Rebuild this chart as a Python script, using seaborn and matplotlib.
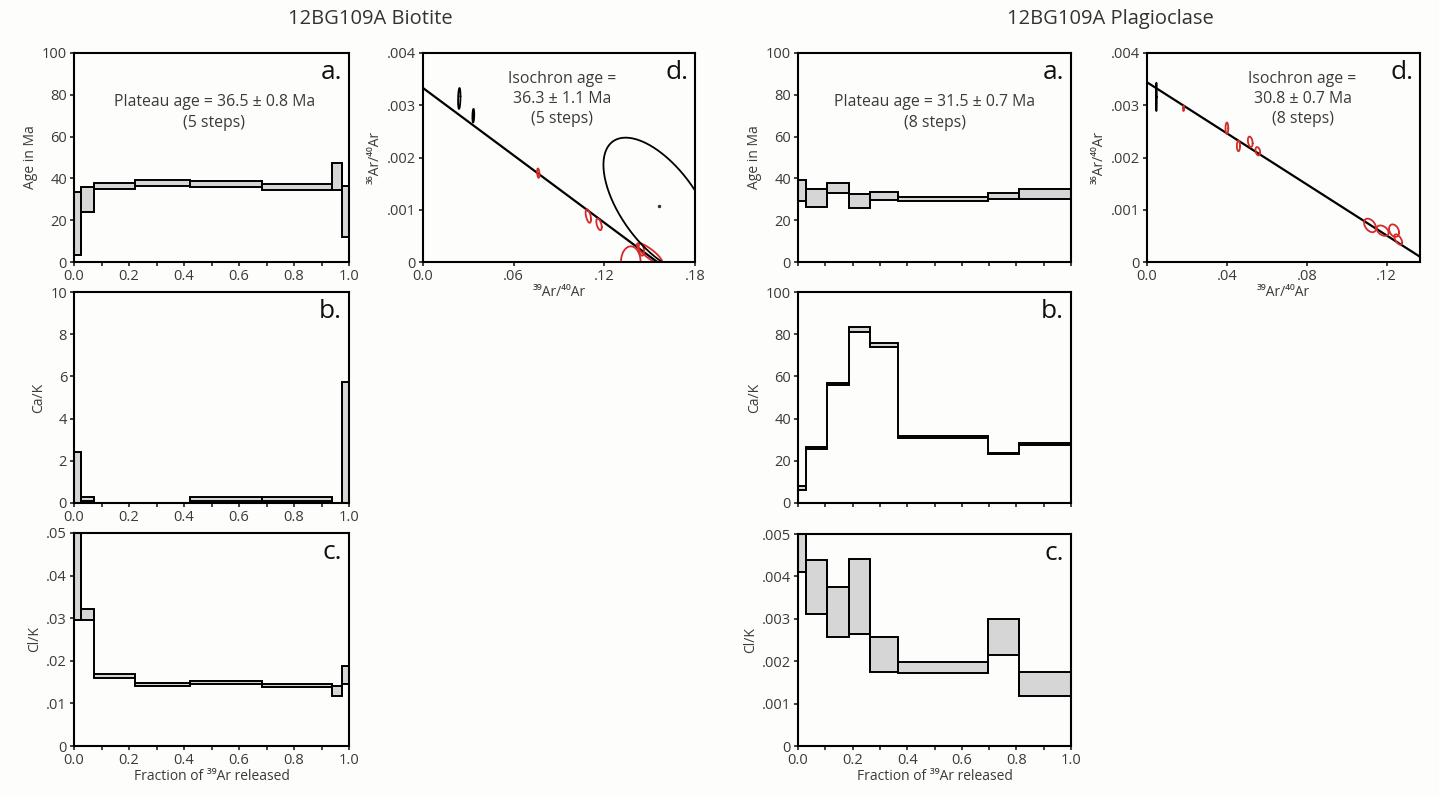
import numpy as np
import pandas as pd
import matplotlib
matplotlib.use("Agg")
import matplotlib.pyplot as plt
import seaborn as sns

# ---------------- data ----------------
# Biotite step heating (fraction of 39Ar released, step edges)
bio_edges = [0.0, 0.024, 0.073, 0.223, 0.420, 0.685, 0.939, 0.973, 1.0]
bio_age_lo = [3.5, 24.0, 35.0, 36.5, 36.1, 34.3, 34.3, 12.0]
bio_age_hi = [33.3, 36.0, 37.9, 39.2, 38.7, 37.2, 47.5, 36.3]
bio_cak_lo = [0.0, 0.08, 0.0, 0.0, 0.08, 0.08, 0.0, 0.0]
bio_cak_hi = [2.42, 0.27, 0.0, 0.0, 0.28, 0.28, 0.0, 5.75]
bio_clk_lo = [0.0296, 0.0296, 0.0159, 0.0141, 0.0145, 0.0139, 0.0118, 0.0145]
bio_clk_hi = [0.0600, 0.0321, 0.0169, 0.0148, 0.0152, 0.0145, 0.0140, 0.0188]

# Plagioclase step heating
plag_edges = [0.0, 0.029, 0.106, 0.185, 0.264, 0.367, 0.696, 0.808, 1.0]
plag_age_lo = [29.0, 26.5, 33.2, 25.6, 29.7, 29.4, 30.3, 30.3]
plag_age_hi = [39.0, 34.8, 37.9, 32.4, 33.7, 31.3, 33.2, 34.8]
plag_cak_lo = [6.0, 25.6, 55.8, 81.2, 74.0, 30.8, 23.0, 27.7]
plag_cak_hi = [8.0, 26.6, 56.8, 83.2, 75.8, 31.6, 23.8, 28.5]
plag_clk_lo = [0.00411, 0.00311, 0.00258, 0.00263, 0.00174, 0.00171, 0.00215, 0.00119]
plag_clk_hi = [0.0056, 0.00439, 0.00374, 0.00440, 0.00258, 0.00199, 0.00299, 0.00175]

# Isochron ellipses: centre x, centre y, half-width x, half-height y, correlation, colour
bio_ell_cx = [0.0240, 0.0333, 0.0763, 0.1094, 0.1165, 0.1375, 0.1500, 0.1445, 0.1562]
bio_ell_cy = [0.00313, 0.00280, 0.00170, 0.00088, 0.00072, 0.00000, 0.00016, 0.00024, 0.00108]
bio_ell_sx = [0.0008, 0.0006, 0.0008, 0.0018, 0.0018, 0.0065, 0.0085, 0.0018, 0.0368]
bio_ell_sy = [0.00020, 0.00013, 0.00009, 0.00013, 0.00011, 0.00030, 0.00020, 0.00012, 0.00130]
bio_ell_r = [0.2, 0.2, -0.3, -0.5, -0.5, 0.0, -0.85, -0.3, -0.60]
bio_ell_col = ["k", "k", "r", "r", "r", "r", "r", "r", "k"]
bio_iso_y0, bio_iso_x0 = 0.00333, 0.155

plag_ell_cx = [0.0047, 0.0183, 0.0400, 0.0458, 0.0517, 0.0555, 0.1117, 0.1180, 0.1237, 0.1258]
plag_ell_cy = [0.00316, 0.00294, 0.00256, 0.00222, 0.00230, 0.00212, 0.00070, 0.00060, 0.00060, 0.00043]
plag_ell_sx = [0.0002, 0.0003, 0.0007, 0.0008, 0.0012, 0.0012, 0.0030, 0.0030, 0.0025, 0.0020]
plag_ell_sy = [0.00027, 0.00005, 0.00011, 0.00010, 0.00010, 0.00008, 0.00013, 0.00010, 0.00012, 0.00010]
plag_ell_r = [0.0, 0.0, 0.0, 0.0, -0.3, -0.3, -0.4, -0.4, -0.3, -0.6]
plag_ell_col = ["k", "r", "r", "r", "r", "r", "r", "r", "r", "r"]
plag_iso_y0, plag_iso_x0 = 0.00344, 0.1408

# Tick labels
frac_ticks = [0.0, 0.2, 0.4, 0.6, 0.8, 1.0]
frac_labels = ["0.0", "0.2", "0.4", "0.6", "0.8", "1.0"]
age_ticks = [0, 20, 40, 60, 80, 100]
bio_cak_ticks = [0, 2, 4, 6, 8, 10]
plag_cak_ticks = [0, 20, 40, 60, 80, 100]
bio_clk_ticks = [0, 0.01, 0.02, 0.03, 0.04, 0.05]
bio_clk_labels = ["0", ".01", ".02", ".03", ".04", ".05"]
plag_clk_ticks = [0, 0.001, 0.002, 0.003, 0.004, 0.005]
plag_clk_labels = ["0", ".001", ".002", ".003", ".004", ".005"]
iso_y_ticks = [0, 0.001, 0.002, 0.003, 0.004]
iso_y_labels = ["0", ".001", ".002", ".003", ".004"]
bio_iso_x_ticks = [0.0, 0.06, 0.12, 0.18]
bio_iso_x_labels = ["0.0", ".06", ".12", ".18"]
plag_iso_x_ticks = [0.0, 0.04, 0.08, 0.12]
plag_iso_x_labels = ["0.0", ".04", ".08", ".12"]

# ---------------- style ----------------
sns.set_theme(style="ticks")
FAM = ["Open Sans", "DejaVu Sans"]
plt.rcParams["font.family"] = FAM
BG = "#fdfdfb"
TXT = "#3a3a3a"
FILL = "#d6d6d6"
LW = 1.4

W, H = 1439, 797
fig = plt.figure(figsize=(W / 100, H / 100), dpi=100, facecolor=BG)


def make_ax(l, r, t, b):
    ax = fig.add_axes([l / W, 1 - b / H, (r - l) / W, (b - t) / H])
    ax.set_facecolor(BG)
    for s in ax.spines.values():
        s.set_color("black")
        s.set_linewidth(1.5)
    ax.tick_params(direction="out", length=3, width=1.2, color="#222",
                   labelsize=10.5, labelcolor=TXT, pad=2)
    return ax


def spectrum(ax, edges, lo, hi, ylim, yticks, ylabels, ylabel, labels_x):
    e = np.array(edges)
    lo = np.array(lo)
    hi = np.array(hi)
    ax.bar(e[:-1], hi - lo, bottom=lo, width=np.diff(e), align="edge",
           color=FILL, edgecolor="black", linewidth=LW)
    # connecting risers between adjacent steps
    inner = e[1:-1]
    ax.vlines(inner, np.minimum(lo[:-1], lo[1:]), np.maximum(hi[:-1], hi[1:]),
              color="black", lw=LW)
    ax.set_xlim(0, 1)
    ax.set_ylim(*ylim)
    ax.set_yticks(yticks)
    ax.set_yticklabels(ylabels)
    ax.set_xticks(frac_ticks)
    ax.set_xticks(np.arange(0.1, 1.0, 0.2), minor=True)
    ax.tick_params(which="minor", direction="out", length=3, width=1.2, color="#222")
    if labels_x:
        ax.set_xticklabels(frac_labels)
    else:
        ax.set_xticklabels([])
    ax.set_ylabel(ylabel, fontsize=10, color=TXT, labelpad=3)


def ellipse_pts(cx, cy, sx, sy, r, n=160):
    t = np.linspace(0, 2 * np.pi, n)
    x = cx + sx * np.cos(t)
    y = cy + sy * (r * np.cos(t) - np.sqrt(1 - r * r) * np.sin(t))
    return x, y


def isochron(ax, cxs, cys, sxs, sys_, rs, cols, y0, x0, xlim, xt, xl, dot=None):
    ax.set_xlim(*xlim)
    ax.set_ylim(0, 0.004)
    sns.lineplot(x=[0, x0], y=[y0, 0], color="black", lw=LW + 0.2, ax=ax,
                 sort=False, estimator=None)
    for cx, cy, sx, sy, r, c in zip(cxs, cys, sxs, sys_, rs, cols):
        x, y = ellipse_pts(cx, cy, sx, sy, r)
        col = "#d42a2a" if c == "r" else "black"
        sns.lineplot(x=x, y=y, color=col, lw=1.3, ax=ax, sort=False, estimator=None)
    if dot is not None:
        ax.plot([dot[0]], [dot[1]], marker="o", ms=1.5, color="#333")
    ax.set_yticks(iso_y_ticks)
    ax.set_yticklabels(iso_y_labels)
    ax.set_xticks(xt)
    ax.set_xticklabels(xl)
    ax.set_ylabel("³⁶Ar/⁴⁰Ar", fontsize=10, color=TXT, labelpad=3)
    ax.set_xlabel("³⁹Ar/⁴⁰Ar", fontsize=10, color=TXT, labelpad=1)


def letter(ax, s):
    ax.text(0.975, 0.965, s, transform=ax.transAxes, ha="right", va="top",
            fontsize=19, color="#111")


def note(ax, x, y, s):
    ax.text(x, y, s, transform=ax.transAxes, ha="center", va="center",
            fontsize=11.4, color=TXT, linespacing=1.35)


# ---------------- Biotite ----------------
ax = make_ax(74, 349, 53, 262)
spectrum(ax, bio_edges, bio_age_lo, bio_age_hi, (0, 100), age_ticks,
         [str(v) for v in age_ticks], "Age in Ma", True)
letter(ax, "a.")
note(ax, 0.51, 0.715, "Plateau age = 36.5 ± 0.8 Ma\n(5 steps)")

ax = make_ax(74, 349, 292, 503)
spectrum(ax, bio_edges, bio_cak_lo, bio_cak_hi, (0, 10), bio_cak_ticks,
         [str(v) for v in bio_cak_ticks], "Ca/K", True)
letter(ax, "b.")

ax = make_ax(74, 349, 533, 746)
spectrum(ax, bio_edges, bio_clk_lo, bio_clk_hi, (0, 0.05), bio_clk_ticks,
         bio_clk_labels, "Cl/K", True)
ax.set_xlabel("Fraction of ³⁹Ar released", fontsize=10, color=TXT, labelpad=1)
letter(ax, "c.")

ax = make_ax(423, 695, 53, 262)
isochron(ax, bio_ell_cx, bio_ell_cy, bio_ell_sx, bio_ell_sy, bio_ell_r, bio_ell_col,
         bio_iso_y0, bio_iso_x0, (0, 0.18), bio_iso_x_ticks, bio_iso_x_labels,
         dot=(bio_ell_cx[-1], bio_ell_cy[-1]))
letter(ax, "d.")
note(ax, 0.51, 0.78, "Isochron age =\n36.3 ± 1.1 Ma\n(5 steps)")

# ---------------- Plagioclase ----------------
ax = make_ax(798, 1071, 53, 262)
spectrum(ax, plag_edges, plag_age_lo, plag_age_hi, (0, 100), age_ticks,
         [str(v) for v in age_ticks], "Age in Ma", False)
letter(ax, "a.")
note(ax, 0.50, 0.715, "Plateau age = 31.5 ± 0.7 Ma\n(8 steps)")

ax = make_ax(798, 1071, 292, 503)
spectrum(ax, plag_edges, plag_cak_lo, plag_cak_hi, (0, 100), plag_cak_ticks,
         [str(v) for v in plag_cak_ticks], "Ca/K", False)
letter(ax, "b.")

ax = make_ax(798, 1071, 534, 746)
spectrum(ax, plag_edges, plag_clk_lo, plag_clk_hi, (0, 0.005), plag_clk_ticks,
         plag_clk_labels, "Cl/K", True)
ax.set_xlabel("Fraction of ³⁹Ar released", fontsize=10, color=TXT, labelpad=1)
letter(ax, "c.")

ax = make_ax(1147, 1420, 53, 262)
isochron(ax, plag_ell_cx, plag_ell_cy, plag_ell_sx, plag_ell_sy, plag_ell_r, plag_ell_col,
         plag_iso_y0, plag_iso_x0, (0, 0.1367), plag_iso_x_ticks, plag_iso_x_labels)
letter(ax, "d.")
note(ax, 0.57, 0.78, "Isochron age =\n30.8 ± 0.7 Ma\n(8 steps)")

# ---------------- titles ----------------
fig.text(370 / W, 1 - 19 / H, "12BG109A Biotite", ha="center", va="center",
         fontsize=14.5, color="#333")
fig.text(1110 / W, 1 - 19 / H, "12BG109A Plagioclase", ha="center", va="center",
         fontsize=14.5, color="#333")

fig.savefig("out.png", dpi=100, facecolor=BG)
